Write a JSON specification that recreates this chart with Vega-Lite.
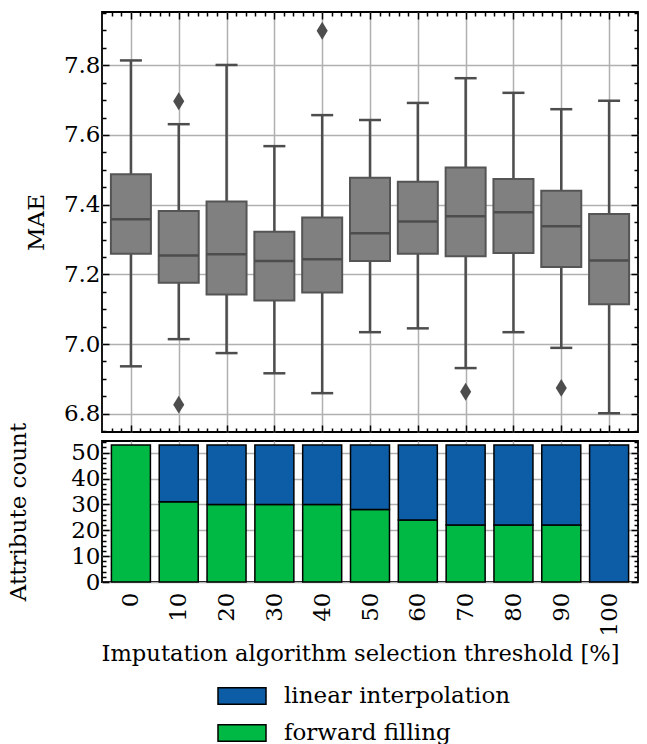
{
  "$schema": "https://vega.github.io/schema/vega-lite/v6.json",
  "padding": {"top": 10, "left": 6, "right": 4, "bottom": 5},
  "bounds": "flush",
  "spacing": 9,
  "config": {
    "font": "DejaVu Serif",
    "view": {"stroke": "#000000", "strokeWidth": 1.8},
    "axis": {
      "labelFont": "DejaVu Serif",
      "titleFont": "DejaVu Serif",
      "labelFontSize": 23,
      "titleFontSize": 23,
      "labelColor": "#000000",
      "titleColor": "#000000",
      "titleFontWeight": "normal",
      "domain": false,
      "tickColor": "#000000",
      "tickWidth": 1.5,
      "gridColor": "#b0b0b0",
      "gridWidth": 1.5,
      "gridOpacity": 1
    },
    "legend": {
      "labelFont": "DejaVu Serif",
      "labelFontSize": 23,
      "labelColor": "#000000",
      "labelLimit": 0
    }
  },
  "datasets": {
    "boxes": [
      {"threshold": 0, "lower": 6.936, "q1": 7.259, "median": 7.358, "q3": 7.487, "upper": 7.814},
      {"threshold": 10, "lower": 7.014, "q1": 7.176, "median": 7.254, "q3": 7.382, "upper": 7.631},
      {"threshold": 20, "lower": 6.974, "q1": 7.142, "median": 7.258, "q3": 7.409, "upper": 7.801},
      {"threshold": 30, "lower": 6.916, "q1": 7.125, "median": 7.238, "q3": 7.322, "upper": 7.568},
      {"threshold": 40, "lower": 6.859, "q1": 7.148, "median": 7.243, "q3": 7.363, "upper": 7.657},
      {"threshold": 50, "lower": 7.034, "q1": 7.238, "median": 7.318, "q3": 7.477, "upper": 7.643},
      {"threshold": 60, "lower": 7.045, "q1": 7.259, "median": 7.352, "q3": 7.466, "upper": 7.692},
      {"threshold": 70, "lower": 6.931, "q1": 7.252, "median": 7.367, "q3": 7.507, "upper": 7.763},
      {"threshold": 80, "lower": 7.034, "q1": 7.261, "median": 7.378, "q3": 7.474, "upper": 7.721},
      {"threshold": 90, "lower": 6.989, "q1": 7.221, "median": 7.338, "q3": 7.440, "upper": 7.674},
      {"threshold": 100, "lower": 6.801, "q1": 7.114, "median": 7.240, "q3": 7.373, "upper": 7.698}
    ],
    "outliers": [
      {"threshold": 10, "mae": 7.697},
      {"threshold": 10, "mae": 6.826},
      {"threshold": 40, "mae": 7.899},
      {"threshold": 70, "mae": 6.863},
      {"threshold": 90, "mae": 6.874}
    ],
    "counts": [
      {"threshold": 0, "method": "forward filling", "count": 53},
      {"threshold": 10, "method": "forward filling", "count": 31},
      {"threshold": 10, "method": "linear interpolation", "count": 22},
      {"threshold": 20, "method": "forward filling", "count": 30},
      {"threshold": 20, "method": "linear interpolation", "count": 23},
      {"threshold": 30, "method": "forward filling", "count": 30},
      {"threshold": 30, "method": "linear interpolation", "count": 23},
      {"threshold": 40, "method": "forward filling", "count": 30},
      {"threshold": 40, "method": "linear interpolation", "count": 23},
      {"threshold": 50, "method": "forward filling", "count": 28},
      {"threshold": 50, "method": "linear interpolation", "count": 25},
      {"threshold": 60, "method": "forward filling", "count": 24},
      {"threshold": 60, "method": "linear interpolation", "count": 29},
      {"threshold": 70, "method": "forward filling", "count": 22},
      {"threshold": 70, "method": "linear interpolation", "count": 31},
      {"threshold": 80, "method": "forward filling", "count": 22},
      {"threshold": 80, "method": "linear interpolation", "count": 31},
      {"threshold": 90, "method": "forward filling", "count": 22},
      {"threshold": 90, "method": "linear interpolation", "count": 31},
      {"threshold": 100, "method": "linear interpolation", "count": 53}
    ]
  },
  "vconcat": [
    {
      "width": 536,
      "height": 420,
      "data": {"name": "boxes"},
      "resolve": {"axis": {"x": "independent", "y": "independent"}},
      "layer": [
        {
          "mark": {"type": "rule", "color": "#4d4d4d", "strokeWidth": 2.5},
          "encoding": {
            "x": {
              "field": "threshold", "type": "quantitative",
              "scale": {"domain": [-5, 105], "nice": false, "zero": false},
              "axis": {"orient": "bottom", "values": [0, 10, 20, 30, 40, 50, 60, 70, 80, 90, 100], "labels": false, "title": null, "grid": true, "ticks": true, "tickSize": -7}
            },
            "y": {
              "field": "lower", "type": "quantitative",
              "scale": {"domain": [6.7475, 7.953], "nice": false, "zero": false},
              "axis": {"orient": "left", "values": [6.8, 7.0, 7.2, 7.4, 7.6, 7.8], "format": ".1f", "grid": true, "tickSize": -7, "labelPadding": 9, "title": "MAE", "titlePadding": 15}
            },
            "y2": {"field": "upper"}
          }
        },
        {
          "mark": {"type": "bar", "size": 40, "fill": "#808080", "stroke": "#555555", "strokeWidth": 2},
          "encoding": {
            "x": {
              "field": "threshold", "type": "quantitative",
              "axis": {"orient": "top", "values": [0, 10, 20, 30, 40, 50, 60, 70, 80, 90, 100], "labels": false, "title": null, "grid": false, "tickSize": -7}
            },
            "y": {
              "field": "q1", "type": "quantitative",
              "axis": {"orient": "right", "values": [6.8, 7.0, 7.2, 7.4, 7.6, 7.8], "labels": false, "title": null, "grid": false, "tickSize": -7}
            },
            "y2": {"field": "q3"}
          }
        },
        {
          "mark": {"type": "tick", "orient": "horizontal", "size": 40, "thickness": 2.5, "color": "#4d4d4d", "opacity": 1},
          "encoding": {
            "x": {
              "field": "threshold", "type": "quantitative",
              "axis": {"orient": "bottom", "values": [-4, -2, 2, 4, 6, 8, 12, 14, 16, 18, 22, 24, 26, 28, 32, 34, 36, 38, 42, 44, 46, 48, 52, 54, 56, 58, 62, 64, 66, 68, 72, 74, 76, 78, 82, 84, 86, 88, 92, 94, 96, 98, 102, 104], "labels": false, "title": null, "grid": false, "tickSize": -4}
            },
            "y": {
              "field": "median", "type": "quantitative",
              "axis": {"orient": "left", "values": [6.75, 6.85, 6.9, 6.95, 7.05, 7.1, 7.15, 7.25, 7.3, 7.35, 7.45, 7.5, 7.55, 7.65, 7.7, 7.75, 7.85, 7.9, 7.95], "labels": false, "title": null, "grid": false, "tickSize": -4}
            }
          }
        },
        {
          "mark": {"type": "tick", "orient": "horizontal", "size": 22, "thickness": 2.5, "color": "#4d4d4d", "opacity": 1},
          "encoding": {
            "x": {
              "field": "threshold", "type": "quantitative",
              "axis": {"orient": "top", "values": [-4, -2, 2, 4, 6, 8, 12, 14, 16, 18, 22, 24, 26, 28, 32, 34, 36, 38, 42, 44, 46, 48, 52, 54, 56, 58, 62, 64, 66, 68, 72, 74, 76, 78, 82, 84, 86, 88, 92, 94, 96, 98, 102, 104], "labels": false, "title": null, "grid": false, "tickSize": -4}
            },
            "y": {
              "field": "upper", "type": "quantitative",
              "axis": {"orient": "right", "values": [6.75, 6.85, 6.9, 6.95, 7.05, 7.1, 7.15, 7.25, 7.3, 7.35, 7.45, 7.5, 7.55, 7.65, 7.7, 7.75, 7.85, 7.9, 7.95], "labels": false, "title": null, "grid": false, "tickSize": -4}
            }
          }
        },
        {
          "mark": {"type": "tick", "orient": "horizontal", "size": 22, "thickness": 2.5, "color": "#4d4d4d", "opacity": 1},
          "encoding": {
            "x": {"field": "threshold", "type": "quantitative", "axis": null},
            "y": {"field": "lower", "type": "quantitative", "axis": null}
          }
        },
        {
          "data": {"name": "outliers"},
          "mark": {"type": "point", "shape": "M0,-1L0.62,0L0,1L-0.62,0Z", "size": 320, "filled": true, "color": "#4d4d4d", "opacity": 1},
          "encoding": {
            "x": {"field": "threshold", "type": "quantitative", "axis": null},
            "y": {"field": "mae", "type": "quantitative", "axis": null}
          }
        }
      ]
    },
    {
      "width": 536,
      "height": 141,
      "data": {"name": "counts"},
      "resolve": {"axis": {"x": "independent", "y": "independent"}},
      "layer": [
        {
          "mark": {"type": "bar", "size": 39, "stroke": "#000000", "strokeWidth": 1.5},
          "encoding": {
            "x": {
              "field": "threshold", "type": "quantitative",
              "scale": {"domain": [-5, 105], "nice": false, "zero": false},
              "axis": {"orient": "bottom", "values": [0, 10, 20, 30, 40, 50, 60, 70, 80, 90, 100], "labelAngle": -90, "labelAlign": "right", "labelBaseline": "middle", "labelPadding": 10, "grid": true, "ticks": false, "title": "Imputation algorithm selection threshold [%]", "titleFontSize": 22.6, "titlePadding": 7, "titleX": 258, "titleAlign": "center"}
            },
            "y": {
              "field": "count", "type": "quantitative", "stack": "zero",
              "scale": {"domain": [0, 54.5], "nice": false},
              "axis": {"orient": "left", "values": [0, 10, 20, 30, 40, 50], "grid": true, "tickSize": -7, "labelPadding": 9, "title": "Attribute count", "titlePadding": 40}
            },
            "color": {
              "field": "method", "type": "nominal",
              "scale": {"domain": ["linear interpolation", "forward filling"], "range": ["#0C5DA5", "#00B945"]},
              "legend": {
                "title": null,
                "orient": "none",
                "legendX": 115,
                "legendY": 659,
                "direction": "vertical",
                "symbolType": "M-1,-0.34H1V0.34H-1Z",
                "symbolSize": 2304,
                "symbolStrokeColor": "#000000",
                "symbolStrokeWidth": 1.5,
                "symbolOpacity": 1,
                "labelOffset": 17,
                "rowPadding": -4
              }
            },
            "order": {"field": "method", "sort": "ascending"}
          }
        },
        {
          "mark": {"type": "tick", "opacity": 0},
          "encoding": {
            "y": {
              "field": "count", "type": "quantitative",
              "axis": {"orient": "right", "values": [0, 10, 20, 30, 40, 50], "labels": false, "title": null, "grid": false, "tickSize": -7}
            }
          }
        },
        {
          "mark": {"type": "tick", "opacity": 0},
          "encoding": {
            "y": {
              "field": "count", "type": "quantitative",
              "axis": {"orient": "left", "values": [2, 4, 6, 8, 12, 14, 16, 18, 22, 24, 26, 28, 32, 34, 36, 38, 42, 44, 46, 48, 52, 54], "labels": false, "title": null, "grid": false, "tickSize": -4}
            }
          }
        },
        {
          "mark": {"type": "tick", "opacity": 0},
          "encoding": {
            "y": {
              "field": "count", "type": "quantitative",
              "axis": {"orient": "right", "values": [2, 4, 6, 8, 12, 14, 16, 18, 22, 24, 26, 28, 32, 34, 36, 38, 42, 44, 46, 48, 52, 54], "labels": false, "title": null, "grid": false, "tickSize": -4}
            }
          }
        }
      ]
    }
  ]
}
